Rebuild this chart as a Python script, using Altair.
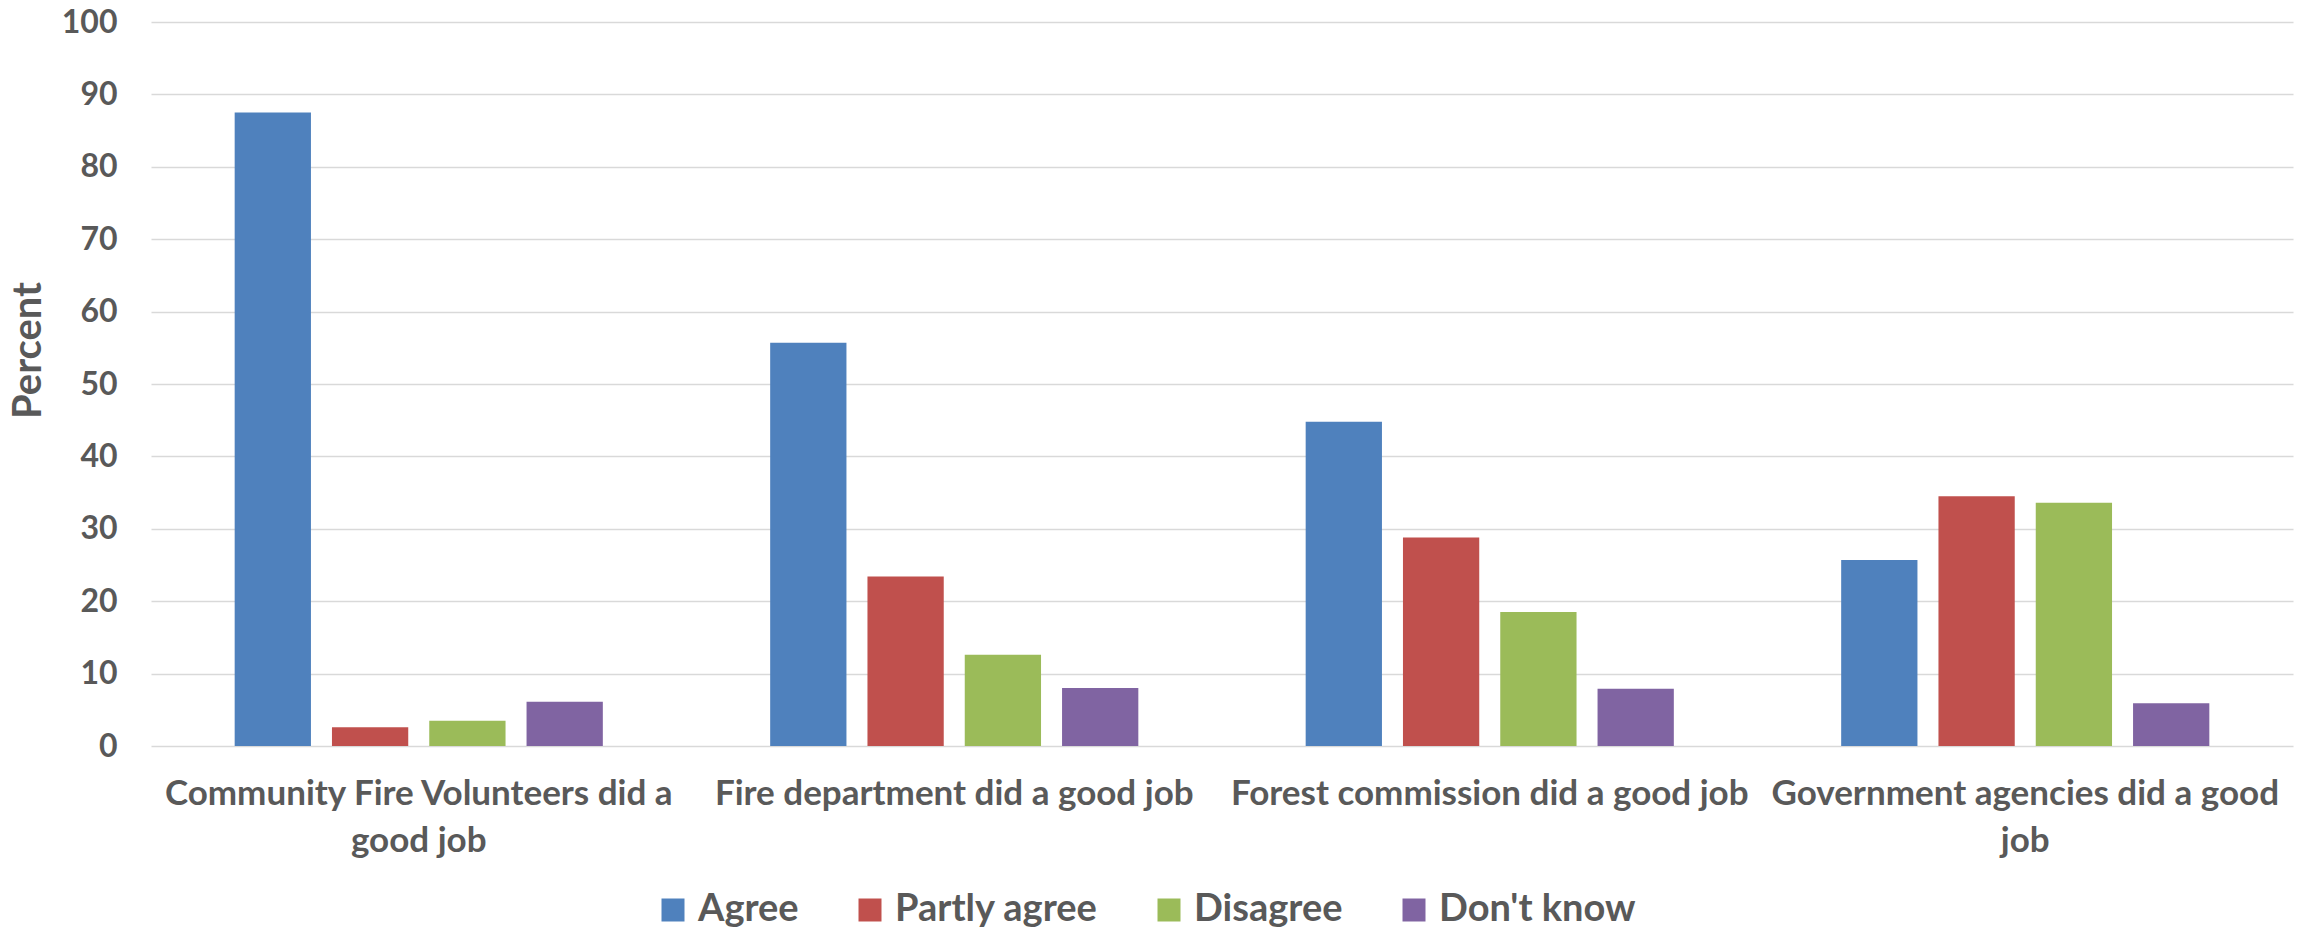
import json

import altair as alt
import pandas as pd

# Survey statements (x categories) and how each axis label wraps
statements = [
    "Community Fire Volunteers did a good job",
    "Fire department did a good job",
    "Forest commission did a good job",
    "Government agencies did a good job",
]
label_lines = [
    ["Community Fire Volunteers did a", "good job"],
    ["Fire department did a good job"],
    ["Forest commission did a good job"],
    ["Government agencies did a good", "job"],
]

# Response categories and their colours
responses = ["Agree", "Partly agree", "Disagree", "Don't know"]
colors = ["#4F81BD", "#C0504D", "#9BBB59", "#8064A2"]

# Percent of respondents per statement
agree = [87.5, 55.7, 44.8, 25.7]
partly_agree = [2.6, 23.4, 28.8, 34.5]
disagree = [3.5, 12.6, 18.5, 33.6]
dont_know = [6.1, 8.0, 7.9, 5.9]

series = dict(zip(responses, [agree, partly_agree, disagree, dont_know]))
rows = []
for resp, vals in series.items():
    for stmt, v in zip(statements, vals):
        rows.append({"statement": stmt, "response": resp, "percent": v})
df = pd.DataFrame(rows)

# Multi-line axis labels
label_expr = "datum.label"
for stmt, lines in reversed(list(zip(statements, label_lines))):
    label_expr = f"datum.label == {json.dumps(stmt)} ? {json.dumps(lines)} : ({label_expr})"

TEXT = "#595959"
FONT = "Lato"

chart = (
    alt.Chart(df)
    .mark_bar()
    .encode(
        x=alt.X(
            "statement:N",
            sort=statements,
            scale=alt.Scale(paddingInner=0, paddingOuter=0),
            axis=alt.Axis(
                title=None,
                labelExpr=label_expr,
                labelAngle=0,
                labelFont=FONT,
                labelFontSize=35,
                labelFontWeight="bold",
                labelColor=TEXT,
                labelLineHeight=47,
                labelBaseline="top",
                labelPadding=30,
                labelLimit=1000,
                ticks=False,
                tickSize=0,
                domain=False,
                grid=False,
            ),
        ),
        xOffset=alt.XOffset(
            "response:N",
            sort=responses,
            scale=alt.Scale(paddingInner=0.216, paddingOuter=0.86),
        ),
        y=alt.Y(
            "percent:Q",
            scale=alt.Scale(domain=[0, 100], nice=False),
            axis=alt.Axis(
                values=list(range(0, 101, 10)),
                title="Percent",
                titleFont=FONT,
                titleFontSize=40,
                titleFontWeight="bold",
                titleColor=TEXT,
                titleAngle=270,
                titleAlign="center",
                titleBaseline="middle",
                titleX=-123,
                titleY=328,
                labelFont=FONT,
                labelFontSize=32,
                labelFontWeight="bold",
                labelColor=TEXT,
                labelPadding=34,
                ticks=False,
                tickSize=0,
                domain=False,
                grid=True,
                gridColor="#D9D9D9",
                gridWidth=1.5,
            ),
        ),
        color=alt.Color(
            "response:N",
            sort=responses,
            scale=alt.Scale(domain=responses, range=colors),
            legend=alt.Legend(
                title=None,
                orient="none",
                direction="horizontal",
                columns=4,
                legendX=503,
                legendY=869,
                symbolType="square",
                symbolSize=529,
                symbolStrokeWidth=0,
                symbolOpacity=1,
                labelFont=FONT,
                labelFontSize=38,
                labelFontWeight="bold",
                labelColor=TEXT,
                labelOffset=6,
                columnPadding=52,
                padding=0,
                labelLimit=1000,
            ),
        ),
    )
    .properties(
        width=2142,
        height=724,
        autosize=alt.AutoSizeParams(type="none"),
        padding={"left": 151, "top": 22, "right": 11, "bottom": 182},
        background="white",
    )
    .configure_view(strokeWidth=0)
)

chart.save("out.html", embed_options={"renderer": "svg", "actions": False})
